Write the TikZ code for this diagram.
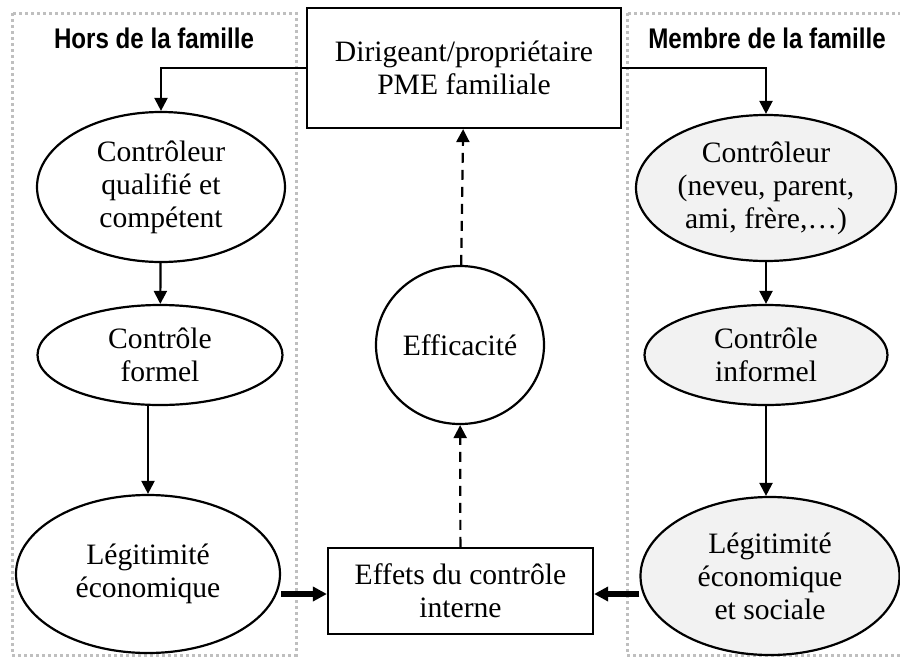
\documentclass[tikz,border=0pt]{standalone}
\usepackage{fontspec}
\setmainfont{Liberation Serif}
\newfontfamily\headfont[FakeStretch=0.85]{Liberation Sans}
\usetikzlibrary{shapes.geometric,arrows.meta}
\definecolor{zonegray}{RGB}{191,191,191}
\definecolor{membfill}{RGB}{242,242,242}

\begin{document}
\begin{tikzpicture}[x=0.5pt,y=-0.5pt,
                line width=1.1pt,
                txt/.style={font=\fontsize{14.8}{16.5}\selectfont,align=center},
                oval/.style n args={2}{txt,ellipse,draw,inner sep=0pt,
                    minimum width=#1pt,minimum height=#2pt},
                boxed/.style n args={2}{txt,rectangle,draw,inner sep=0pt,
                    minimum width=#1pt,minimum height=#2pt},
                zone/.style={draw=zonegray,line width=1.5pt,dash pattern=on 1.5pt off 1.5pt},
                head/.style={font=\headfont\bfseries\fontsize{14.2}{16}\selectfont},
                arr/.style={-{Triangle[length=6.5pt,width=6.5pt]}},
                farr/.style={-{Triangle[length=7pt,width=7pt]},line width=2.6pt},
                darr/.style={arr,dash pattern=on 5pt off 3.5pt}]
                \useasboundingbox (0,0) rectangle (900,659);
                % zones
                \draw[zone] (12,13) rectangle (296,655);
                \draw[zone] (627,13) rectangle (905,655);
                \node[head](hors) at (154,38) {Hors de la famille};
                \node[head](membre) at (767,38) {Membre de la famille};
                % centre
                \node[boxed={157}{60}](dir) at (464,68) {Dirigeant/propriétaire\\PME familiale};
                \node[oval={84}{79}](eff) at (460,345) {Efficacité};
                \node[boxed={132.5}{43}](effets) at (460.5,591) {Effets du contrôle\\interne};
                % hors de la famille
                \node[oval={124}{75}](hc1) at (161,187) {Contrôleur\\qualifié et\\compétent};
                \node[oval={122.5}{50}](hc2) at (160,355) {Contrôle\\formel};
                \node[oval={132}{79}](hc3) at (148,574) {Légitimité\\économique};
                % membre de la famille
                \node[oval={130}{73},fill=membfill](mc1) at (766,188) {Contrôleur\\(neveu, parent,\\ami, frère,…)};
                \node[oval={121.5}{50},fill=membfill](mc2) at (766,355) {Contrôle\\informel};
                \node[oval={129.5}{79},fill=membfill](mc3) at (770,576) {Légitimité\\économique\\et sociale};
                % liens
                \draw[arr] (dir.west) -| (hc1.north);
                \draw[arr] (dir.east) -| (mc1.north);
                \draw[arr] (hc1) -- (hc2);
                \draw[arr] (hc2.south -| hc3) -- (hc3.north);
                \draw[arr] (mc1) -- (mc2);
                \draw[arr] (mc2) -- (mc2 |- mc3.north);
                \draw[farr] (hc3.east |- effets) ++(0,3) coordinate (a) -- (a -| effets.west);
                \draw[farr] (mc3.west |- effets) ++(0,3) coordinate (b) -- (b -| effets.east);
                \draw[darr] (effets) -- (eff);
                \draw[darr] (eff) -- (dir);
\end{tikzpicture}
\end{document}
